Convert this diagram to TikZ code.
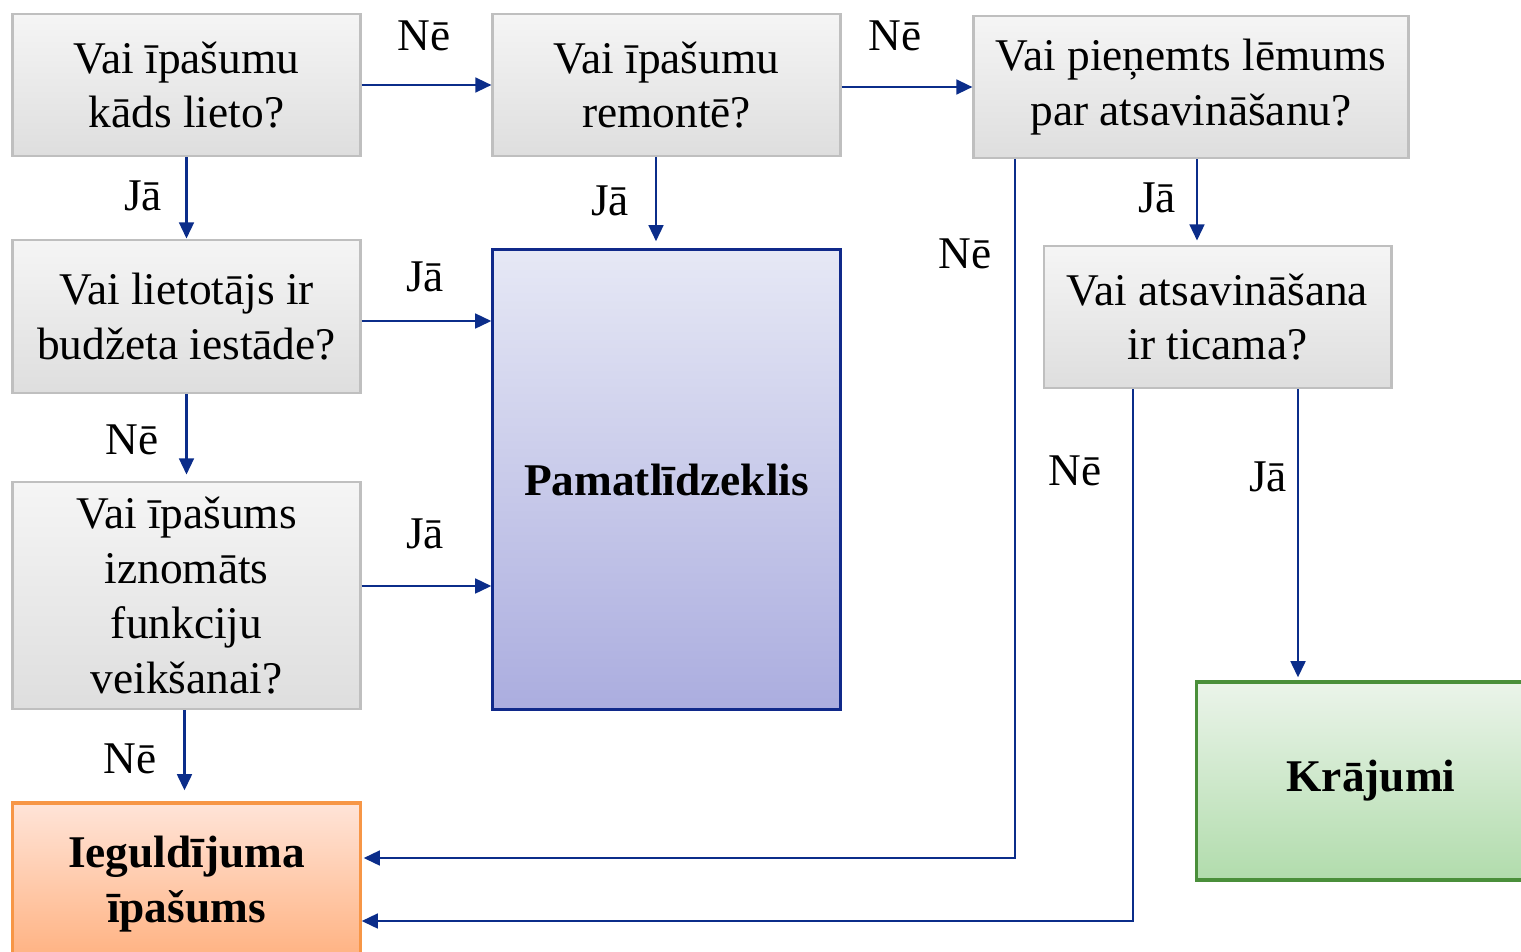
\documentclass[tikz,border=0pt]{standalone}
\usepackage{fontspec}
\setmainfont{Liberation Serif}
\usetikzlibrary{arrows.meta}
\definecolor{arrc}{HTML}{0B2D8A}
\definecolor{graybd}{HTML}{BFBFBF}
\definecolor{graytop}{HTML}{F5F5F5}
\definecolor{graybot}{HTML}{DEDEDE}
\definecolor{bluetop}{HTML}{E6E8F5}
\definecolor{bluebot}{HTML}{ABADDF}
\definecolor{bluebd}{HTML}{10298A}
\definecolor{orgtop}{HTML}{FFE4D8}
\definecolor{orgbot}{HTML}{FFB07E}
\definecolor{orgbd}{HTML}{F79646}
\definecolor{grntop}{HTML}{EBF4EA}
\definecolor{grnbot}{HTML}{B1DCAC}
\definecolor{grnbd}{HTML}{4A8F3A}
\begin{document}
\begin{tikzpicture}[x=0.01cm,y=-0.01cm,
  txt/.style={font=\fontsize{12.9}{15.6}\selectfont, align=center, inner sep=0pt},
  qbox/.style={txt, draw=graybd, line width=0.8pt, top color=graytop, bottom color=graybot},
  bluebox/.style={txt, draw=bluebd, line width=0.9pt, top color=bluetop, bottom color=bluebot, font=\fontsize{12.9}{15.6}\selectfont\bfseries},
  orgbox/.style={txt, draw=orgbd, line width=0.9pt, top color=orgtop, bottom color=orgbot, font=\fontsize{12.9}{15.6}\selectfont\bfseries},
  grnbox/.style={txt, draw=grnbd, line width=0.9pt, top color=grntop, bottom color=grnbot, font=\fontsize{12.9}{15.6}\selectfont\bfseries},
  arr/.style={draw=arrc, line width=0.7pt, -{Triangle[length=4.6pt,width=4.2pt]}},
  lbl/.style={txt}]
\useasboundingbox (0,0) rectangle (1521,951);
\begin{scope}
\clip (0,0) rectangle (1521,951);
% boxes
\node[qbox, minimum width=3.47cm, minimum height=1.42cm] (A) at (186.5,85) {Vai īpašumu\\kāds lieto?};
\node[qbox, minimum width=3.47cm, minimum height=1.42cm] (B) at (666.5,85) {Vai īpašumu\\remontē?};
\node[qbox, minimum width=4.34cm, minimum height=1.42cm] (C) at (1191,87) {Vai pieņemts lēmums\\par atsavināšanu?};
\node[qbox, minimum width=3.47cm, minimum height=1.53cm] (D) at (186.5,316.5) {Vai lietotājs ir\\budžeta iestāde?};
\node[qbox, minimum width=3.47cm, minimum height=2.27cm] (E) at (186.5,595.5) {Vai īpašums\\iznomāts\\funkciju\\veikšanai?};
\node[bluebox, minimum width=3.47cm, minimum height=4.59cm] (F) at (666.5,479.5) {Pamatlīdzeklis};
\node[qbox, minimum width=3.47cm, minimum height=1.42cm] (G) at (1217.5,317) {Vai atsavināšana\\ir ticama?};
\node[orgbox, minimum width=3.47cm, minimum height=1.62cm] (H) at (186.5,884) {Ieguldījuma\\īpašums};
\node[grnbox, minimum width=3.48cm, minimum height=1.98cm] (K) at (1371,781) {Krājumi};
% helper coordinates
\coordinate (bx) at (656,0);
\coordinate (cgx) at (1197,0);
\coordinate (dy) at (0,321);
\coordinate (ey) at (0,586);
\coordinate (cx) at (1015,0);
\coordinate (gx) at (1133,0);
\coordinate (kx) at (1298,0);
\coordinate (hy1) at (0,858);
\coordinate (hy2) at (0,921);
% connectors
\draw[arr] (A.east) -- (B.west);
\draw[arr] (B.east |- C.west) -- (C.west);
\draw[arr] (A.south) -- (D.north);
\draw[arr, shorten >=0.07cm] (B.south -| bx) -- (F.north -| bx);
\draw[arr, shorten >=0.04cm] (C.south -| cgx) -- (G.north -| cgx);
\draw[arr] (D.east |- dy) -- (F.west |- dy);
\draw[arr, shorten >=0.06cm] (D.south) -- (E.north);
\draw[arr] (E.east |- ey) -- (F.west |- ey);
\draw[arr, shorten >=0.11cm] ([xshift=-0.02cm]E.south) -- ([xshift=-0.02cm]H.north);
\draw[arr, shorten >=0.02cm] (C.south -| cx) |- (H.east |- hy1);
\draw[arr] (G.south -| gx) |- (H.east |- hy2);
\draw[arr, shorten >=0.03cm] (G.south -| kx) -- (K.north -| kx);
% labels
\node[lbl] (l1) at (424,36) {Nē};
\node[lbl] (l2) at (895,36) {Nē};
\node[lbl] (l3) at (143,196) {Jā};
\node[lbl] (l4) at (610,201) {Jā};
\node[lbl] (l5) at (1157,198) {Jā};
\node[lbl] (l6) at (425,277) {Jā};
\node[lbl] (l7) at (965,254) {Nē};
\node[lbl] (l8) at (132,440) {Nē};
\node[lbl] (l9) at (425,534) {Jā};
\node[lbl] (l10) at (1075,471) {Nē};
\node[lbl] (l11) at (1268,477) {Jā};
\node[lbl] (l12) at (130,759) {Nē};
\end{scope}
\end{tikzpicture}
\end{document}
